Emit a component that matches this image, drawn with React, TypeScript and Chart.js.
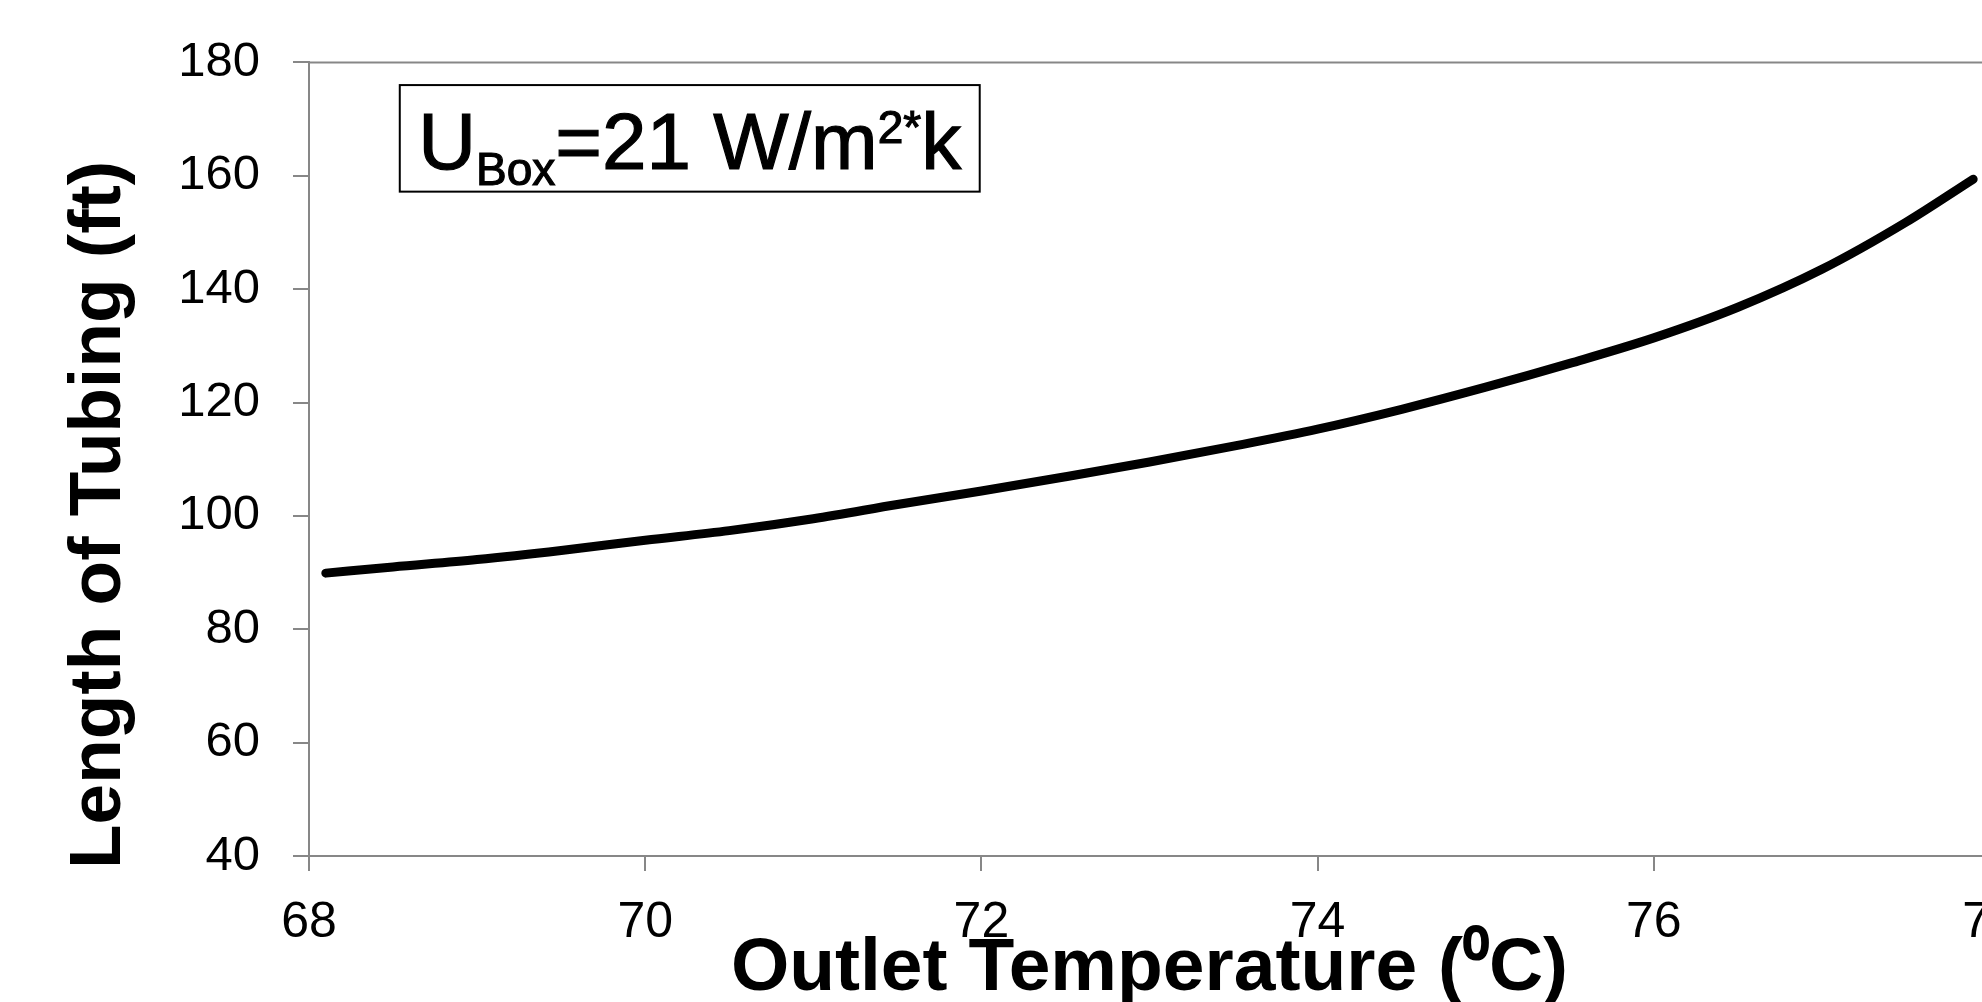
import React, { useEffect, useRef } from "react";
import { Chart, registerables } from "chart.js";

Chart.register(...registerables);

// ---- data ----
const outletTemps = [68.1, 68.5, 69, 69.5, 70, 70.5, 71, 71.5, 72, 72.5, 73, 73.5, 74, 74.5, 75, 75.5, 76, 76.5, 77, 77.5, 77.9];
const tubingLengths = [89.9, 91.0, 92.3, 93.9, 95.7, 97.4, 99.5, 102.0, 104.4, 106.9, 109.5, 112.3, 115.3, 118.8, 122.7, 126.9, 131.4, 136.8, 143.5, 151.8, 159.4];
const xRange = [68, 78];
const xStep = 2;
const yRange = [40, 180];
const yStep = 20;
const xTitle = "Outlet Temperature (\u2070C)";
const yTitle = "Length of Tubing (ft)";
// annotation box: "U_Box=21 W/m^2*k"
const annoMain = "U";
const annoSub = "Box";
const annoMid = "=21 W/m";
const annoSup = "2*";
const annoEnd = "k";
const annoBoxX = [68.54, 71.99];
const annoBoxY = [176.0, 157.2];

const FONT = "'Liberation Sans', Arial, sans-serif";
const AXIS_GRAY = "#878787";

const framePlugin = {
  id: "frame",
  afterDraw(chart: any) {
    const { ctx, chartArea } = chart;
    ctx.save();
    ctx.strokeStyle = AXIS_GRAY;
    ctx.lineWidth = 2;
    ctx.beginPath();
    ctx.moveTo(chartArea.left, chartArea.top);
    ctx.lineTo(chartArea.right, chartArea.top);
    ctx.lineTo(chartArea.right, chartArea.bottom);
    ctx.stroke();

    // y title (rotated)
    ctx.fillStyle = "#000";
    ctx.font = `bold 73px ${FONT}`;
    ctx.translate(chartArea.left - 189, chartArea.bottom + 13);
    ctx.rotate(-Math.PI / 2);
    ctx.textAlign = "left";
    ctx.textBaseline = "alphabetic";
    ctx.fillText(yTitle, 0, 0);
    ctx.restore();

    // annotation box
    const xs = chart.scales.x;
    const ys = chart.scales.y;
    const bx0 = xs.getPixelForValue(annoBoxX[0]);
    const bx1 = xs.getPixelForValue(annoBoxX[1]);
    const by0 = ys.getPixelForValue(annoBoxY[0]);
    const by1 = ys.getPixelForValue(annoBoxY[1]);
    ctx.save();
    ctx.strokeStyle = "#000";
    ctx.lineWidth = 2;
    ctx.strokeRect(bx0, by0, bx1 - bx0, by1 - by0);
    const bigFont = `80px ${FONT}`;
    const smallFont = `46px ${FONT}`;
    ctx.font = bigFont;
    const wU = ctx.measureText(annoMain).width;
    const wMid = ctx.measureText(annoMid).width;
    const wEnd = ctx.measureText(annoEnd).width;
    ctx.font = smallFont;
    const wSub = ctx.measureText(annoSub).width;
    const wSup = ctx.measureText(annoSup).width;
    const total = wU + wSub + wMid + wSup + wEnd;
    let x = (bx0 + bx1) / 2 - total / 2;
    const base = by0 + 84;
    ctx.fillStyle = "#000";
    ctx.strokeStyle = "#000";
    ctx.lineWidth = 1.2;
    ctx.textBaseline = "alphabetic";
    ctx.textAlign = "left";
    const put = (s: string, f: string, px: number, py: number) => {
      ctx.font = f;
      ctx.fillText(s, px, py);
      ctx.strokeText(s, px, py);
    };
    put(annoMain, bigFont, x, base);
    x += wU;
    put(annoSub, smallFont, x, base + 16);
    x += wSub;
    put(annoMid, bigFont, x, base);
    x += wMid;
    put(annoSup, smallFont, x, base - 26);
    x += wSup;
    put(annoEnd, bigFont, x, base);
    ctx.restore();
  },
};

export default function App() {
  const canvasRef = useRef<HTMLCanvasElement | null>(null);

  useEffect(() => {
    if (!canvasRef.current) return;
    const points = outletTemps.map((t, i) => ({ x: t, y: tubingLengths[i] }));
    const chart = new Chart(canvasRef.current, {
      type: "line",
      data: {
        datasets: [
          {
            data: points,
            borderColor: "#000",
            borderWidth: 9,
            borderCapStyle: "round",
            borderJoinStyle: "round",
            pointRadius: 0,
            fill: false,
            cubicInterpolationMode: "monotone",
          },
        ],
      },
      options: {
        responsive: false,
        animation: false,
        devicePixelRatio: 1,
        layout: { padding: { left: 0, top: 56, right: 60, bottom: 0 } },
        plugins: {
          legend: { display: false },
          tooltip: { enabled: false },
        },
        scales: {
          x: {
            type: "linear",
            min: xRange[0],
            max: xRange[1],
            ticks: {
              stepSize: xStep,
              color: "#000",
              font: { family: FONT, size: 50 },
              padding: 22,
              maxRotation: 0,
            },
            grid: {
              display: true,
              drawOnChartArea: false,
              drawTicks: true,
              tickLength: 15,
              color: AXIS_GRAY,
              lineWidth: 2,
            },
            border: { display: true, color: AXIS_GRAY, width: 2 },
            title: {
              display: true,
              text: xTitle,
              color: "#000",
              font: { family: FONT, size: 75, weight: "bold", lineHeight: 1 },
              padding: { top: 0, bottom: -5 },
            },
            afterFit(scale: any) {
              scale.height = 146;
            },
          },
          y: {
            min: yRange[0],
            max: yRange[1],
            ticks: {
              stepSize: yStep,
              color: "#000",
              font: { family: FONT, size: 49 },
              padding: 33,
            },
            grid: {
              display: true,
              drawOnChartArea: false,
              drawTicks: true,
              tickLength: 16,
              color: AXIS_GRAY,
              lineWidth: 2,
            },
            border: { display: true, color: AXIS_GRAY, width: 2 },
            afterFit(scale: any) {
              scale.width = 309;
            },
          },
        },
      },
      plugins: [framePlugin],
    } as any);
    return () => chart.destroy();
  }, []);

  return (
    <div
      style={{
        position: "absolute",
        left: 0,
        top: 0,
        width: 1982,
        height: 1002,
        overflow: "hidden",
        background: "#fff",
      }}
    >
      <canvas ref={canvasRef} width={2050} height={1002} style={{ display: "block" }} />
    </div>
  );
}
